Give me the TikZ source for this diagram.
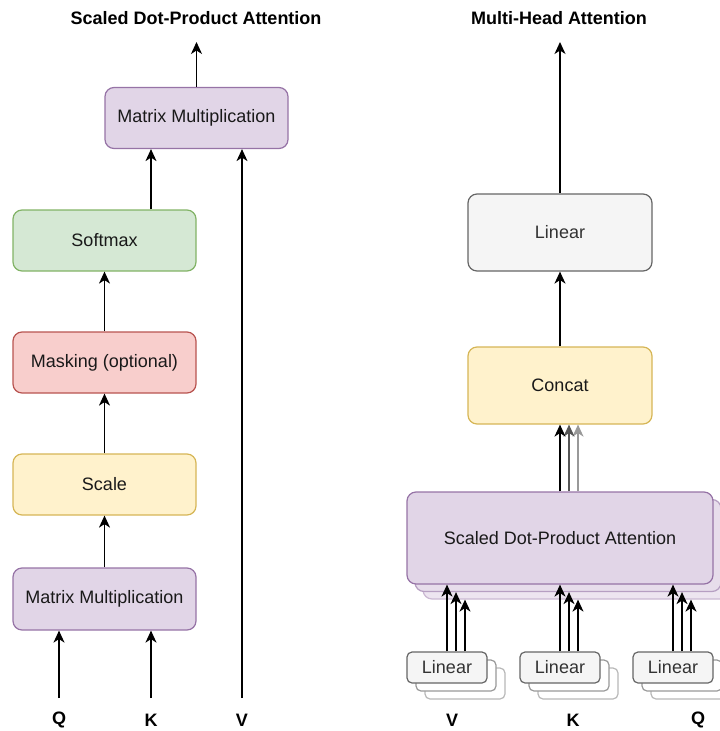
\documentclass[tikz,border=0pt]{standalone}
\usepackage{fontspec}
\setmainfont{Liberation Sans}
\usetikzlibrary{arrows.meta}

\definecolor{purpfill}{HTML}{E1D5E7}
\definecolor{purpline}{HTML}{9673A6}
\definecolor{purpfillB}{HTML}{E7DDEB}
\definecolor{purplineB}{HTML}{B69FC2}
\definecolor{purpfillC}{HTML}{EDE5F0}
\definecolor{purplineC}{HTML}{CBB9D3}
\definecolor{greenfill}{HTML}{D5E8D4}
\definecolor{greenline}{HTML}{82B366}
\definecolor{redfill}{HTML}{F8CECC}
\definecolor{redline}{HTML}{B85450}
\definecolor{yelfill}{HTML}{FFF2CC}
\definecolor{yelline}{HTML}{D6B656}
\definecolor{grayfill}{HTML}{F5F5F5}
\definecolor{grayline}{HTML}{666666}
\definecolor{graytext}{HTML}{333333}
\definecolor{grayB}{HTML}{999999}
\definecolor{grayC}{HTML}{B8B8B8}
\definecolor{arrowB}{HTML}{555555}
\definecolor{arrowC}{HTML}{999999}

\begin{document}
\begin{tikzpicture}[x=1pt,y=-1pt,
  box/.style={draw, rounded corners=9pt, line width=1.2pt, inner sep=0pt,
    minimum width=183pt, minimum height=61pt, text=black!90,
    font=\fontsize{18}{21}\selectfont},
  purp/.style={fill=purpfill, draw=purpline},
  grn/.style={fill=greenfill, draw=greenline},
  redb/.style={fill=redfill, draw=redline},
  yel/.style={fill=yelfill, draw=yelline},
  gry/.style={fill=grayfill, draw=grayline, text=graytext},
  smallbox/.style={draw, rounded corners=5pt, line width=1.2pt, inner sep=0pt,
    minimum width=80pt, minimum height=31pt, font=\fontsize{18}{21}\selectfont},
  lbl/.style={font=\fontsize{18}{21}\selectfont\bfseries, inner sep=0pt},
  arr/.style={line width=1.5pt, -{Stealth[length=12pt,width=11pt,inset=3.5pt]}},
]
\useasboundingbox (0,0) rectangle (720,731);

% ---------- Scaled Dot-Product Attention ----------
\node[lbl] (titleL) at (196,18) {Scaled Dot-Product Attention};

\node[box, purp] (mmt) at (196.5,118) {Matrix Multiplication};
\node[box, grn]  (sm)  at (104.5,240.5) {Softmax};
\node[box, redb] (mask) at (104.5,362.5) {Masking (optional)};
\node[box, yel]  (sc)  at (104.5,484.5) {Scale};
\node[box, purp, minimum height=62pt] (mmb) at (104.5,599) {Matrix Multiplication};

\node[lbl] (Q) at (59,720) {Q};
\node[lbl] (K) at (151,720) {K};
\node[lbl] (V) at (242,720) {V};

\coordinate (outL) at (196.5,42);
\coordinate (qin) at (59,698);
\coordinate (kin) at (151,698);
\coordinate (vin) at (242,698);

\draw[arr] (mmt.north) -- (outL);
\draw[arr] (sm.north -| kin) -- (mmt.south -| kin);
\draw[arr] (vin) -- (vin |- mmt.south);
\draw[arr] (mask.north) -- (sm.south);
\draw[arr] (sc.north) -- (mask.south);
\draw[arr] (mmb.north) -- (sc.south);
\draw[arr] (qin) -- (qin |- mmb.south);
\draw[arr] (kin) -- (kin |- mmb.south);

% ---------- Multi-Head Attention ----------
\node[lbl] (titleR) at (559,18) {Multi-Head Attention};

\node[box, gry, minimum width=184pt, minimum height=77pt] (lin) at (560,232.5) {Linear};
\node[box, yel, minimum width=184pt, minimum height=77pt] (cc) at (560,385.5) {Concat};

% stacked attention heads, back to front
\node[box, fill=purpfillC, draw=purplineC, minimum width=306pt, minimum height=92pt] (sd3) at (576,553) {};
\node[box, fill=purpfillB, draw=purplineB, minimum width=306pt, minimum height=92pt] (sd2) at (568,545.5) {};
\node[box, purp, minimum width=306pt, minimum height=92pt] (sd1) at (560,538) {Scaled Dot-Product Attention};

\coordinate (outR) at (560,42);
\draw[arr] (lin.north) -- (outR);
\draw[arr] (cc.north) -- (lin.south);

\draw[arr, draw=arrowC, fill=arrowC] ([xshift=18pt]sd1.north) -- ([xshift=18pt]cc.south);
\draw[arr, draw=arrowB, fill=arrowB] ([xshift=9pt]sd1.north) -- ([xshift=9pt]cc.south);
\draw[arr] (sd1.north) -- (cc.south);

% stacked linear projections for V, K, Q
\foreach \g/\cx in {v/447, k/560, q/673} {
  \node[smallbox, fill=white, draw=grayC] (l\g3) at (\cx+18,683.5) {};
  \node[smallbox, fill=white, draw=grayB] (l\g2) at (\cx+9,675.5) {};
  \node[smallbox, fill=grayfill, draw=grayline, text=graytext] (l\g1) at (\cx,667.5) {Linear};
}
\foreach \g in {v,k,q} {
  \foreach \i/\s in {1/0,2/9,3/18} {
    \path ([xshift=\s pt]l\g1.north) coordinate (\g top\i);
    \draw[arr] (\g top\i) -- (\g top\i |- sd\i.south);
  }
}

\node[lbl] (V2) at (452,720) {V};
\node[lbl] (K2) at (573,720) {K};
\node[lbl] (Q2) at (698,720) {Q};
\end{tikzpicture}
\end{document}
